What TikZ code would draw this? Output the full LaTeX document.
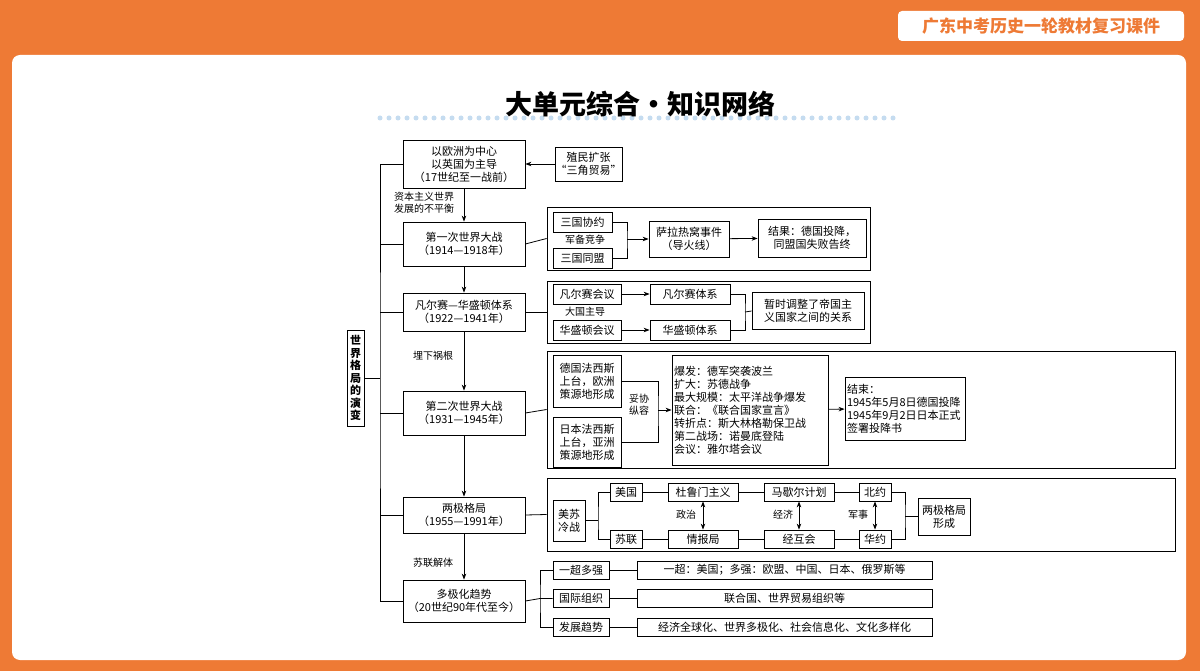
\documentclass[tikz,border=0pt]{standalone}
\usepackage{fontspec}
\setmainfont{Noto Sans CJK SC}
\newfontfamily\cjk{Noto Sans CJK SC}
\usetikzlibrary{arrows.meta}
\definecolor{org}{HTML}{EE7A35}
\definecolor{ttl}{HTML}{C5DCF0}
\begin{document}
\begin{tikzpicture}[x=1pt,y=-1pt,
 bx/.style={draw,line width=0.8pt,inner sep=0pt,align=center,font=\fontsize{11}{13}\selectfont},
 lb/.style={inner sep=0pt,align=left,font=\fontsize{10}{12}\selectfont},
 ln/.style={line width=0.8pt},
 ar/.style={line width=0.8pt,-{Stealth[length=6pt,width=4.5pt]}},
 da/.style={line width=0.8pt,{Stealth[length=6pt,width=4.5pt]}-{Stealth[length=6pt,width=4.5pt]}},
 grp/.style={draw,line width=0.8pt}]
\useasboundingbox (0,0) rectangle (1200,671);
\fill[org] (0,0) rectangle (1200,671);
\fill[white,rounded corners=8pt] (12,55) rectangle (1186,660);
\node[fill=white,rounded corners=4pt,minimum width=286pt,minimum height=30pt,text=org,font=\fontsize{17}{20}\selectfont\bfseries] (badge) at (1041,26) {广东中考历史一轮教材复习课件};
\draw[ttl,line width=5pt,line cap=round,dash pattern=on 0pt off 9pt] (380,118) -- (900,118);
\node[font=\fontsize{27}{30}\selectfont\bfseries] (title) at (640,104) {大单元综合·知识网络};
% main column
\node[bx,minimum width=122pt,minimum height=48pt] (A) at (464,164) {以欧洲为中心\\以英国为主导\\（17世纪至一战前）};
\node[bx,minimum width=67pt,minimum height=34pt] (col) at (588.5,164) {殖民扩张\\“三角贸易”};
\node[bx,minimum width=122pt,minimum height=44pt] (B) at (464,244) {第一次世界大战\\（1914—1918年）};
\node[bx,minimum width=122pt,minimum height=38pt] (C) at (464,312) {凡尔赛—华盛顿体系\\（1922—1941年）};
\node[bx,minimum width=122pt,minimum height=44pt] (D) at (464,413) {第二次世界大战\\（1931—1945年）};
\node[bx,minimum width=122pt,minimum height=36pt] (E) at (464,515) {两极格局\\（1955—1991年）};
\node[bx,minimum width=122pt,minimum height=42pt] (F) at (464,601) {多极化趋势\\（20世纪90年代至今）};
\node[bx,minimum width=17pt,minimum height=96pt,font=\fontsize{11}{12.5}\selectfont\bfseries] (W) at (355.5,378) {世\\界\\格\\局\\的\\演\\变};
\draw[ar] (col) -- (A);
\draw[ar] (A) -- (B); \draw[ar] (B) -- (C); \draw[ar] (C) -- (D); \draw[ar] (D) -- (E); \draw[ar] (E) -- (F);
\coordinate (tk) at (380,378);
\draw[ln] (A.west) -| (tk) |- (F.west);
\draw[ln] (W.east) -- (tk);
\foreach \n in {B,C,D,E} \draw[ln] (\n.west) -- (\n.west -| tk);
\node[lb] (l1) at (424,203) {资本主义世界\\发展的不平衡};
\node[lb] (l2) at (433,356) {埋下祸根};
\node[lb] (l3) at (433,563) {苏联解体};
% group 1
\node[grp,minimum width=323pt,minimum height=63pt] (G1) at (708.5,238.5) {};
\draw[ln] (B.east) -- (G1.west);
\node[bx,minimum width=59pt,minimum height=20pt] (g11) at (582.5,222) {三国协约};
\node[bx,minimum width=59pt,minimum height=20pt] (g12) at (582.5,258) {三国同盟};
\node[lb] (g1l) at (585,240) {军备竞争};
\node[bx,minimum width=80pt,minimum height=36pt] (sa) at (689,239) {萨拉热窝事件\\（导火线）};
\node[bx,minimum width=108pt,minimum height=38pt] (re) at (812,238) {结果：德国投降，\\同盟国失败告终};
\coordinate (b1) at (627,239);
\draw[ln] (g11.east) -| (b1) |- (g12.east);
\draw[ar] (b1) -- (sa);
\draw[ar] (sa) -- (re);
% group 2
\node[grp,minimum width=323pt,minimum height=62pt] (G2) at (708.5,312) {};
\draw[ln] (C.east) -- (G2.west);
\node[bx,minimum width=68pt,minimum height=20pt] (v1) at (587,294) {凡尔赛会议};
\node[bx,minimum width=68pt,minimum height=20pt] (w1) at (587,330) {华盛顿会议};
\node[lb] (g2l) at (585,312) {大国主导};
\node[bx,minimum width=80pt,minimum height=20pt] (v2) at (690,294) {凡尔赛体系};
\node[bx,minimum width=80pt,minimum height=20pt] (w2) at (690,330) {华盛顿体系};
\node[bx,minimum width=112pt,minimum height=37pt] (zs) at (808,311) {暂时调整了帝国主\\义国家之间的关系};
\draw[ar] (v1) -- (v2); \draw[ar] (w1) -- (w2);
\coordinate (b2) at (745,312);
\draw[ln] (v2.east) -| (b2) |- (w2.east);
\draw[ln] (b2) -- (zs.west);
% group 3
\node[grp,minimum width=628pt,minimum height=117pt] (G3) at (861,409.5) {};
\draw[ln] (D.east) -- (G3.west);
\node[bx,minimum width=68pt,minimum height=52pt,align=left] (de) at (587,381) {德国法西斯\\上台，欧洲\\策源地形成};
\node[bx,minimum width=68pt,minimum height=50pt,align=left] (jp) at (587,442) {日本法西斯\\上台，亚洲\\策源地形成};
\node[lb] (g3l) at (639,405) {妥协\\纵容};
\node[bx,minimum width=156pt,minimum height=110pt,align=left,text width=152pt] (bf) at (750,410) {爆发：德军突袭波兰\\扩大：苏德战争\\最大规模：太平洋战争爆发\\联合：《联合国家宣言》\\转折点：斯大林格勒保卫战\\第二战场：诺曼底登陆\\会议：雅尔塔会议};
\node[bx,minimum width=120pt,minimum height=63pt,align=left,text width=116pt] (js) at (905,408.5) {结束：\\1945年5月8日德国投降\\1945年9月2日日本正式\\签署投降书};
\coordinate (b3) at (658,410);
\draw[ln] (de.east) -| (b3) |- (jp.east);
\draw[ar] (b3) -- (bf);
\draw[ar] (bf) -- (js);
% group 4
\node[grp,minimum width=628pt,minimum height=73pt] (G4) at (861,514.5) {};
\draw[ln] (E.east) -- (G4.west);
\node[bx,minimum width=32pt,minimum height=41pt] (ms) at (569,520.5) {美苏\\冷战};
\node[bx,minimum width=32pt,minimum height=18pt] (us) at (626,492) {美国};
\node[bx,minimum width=32pt,minimum height=18pt] (su) at (626,539) {苏联};
\node[bx,minimum width=70pt,minimum height=18pt] (tl) at (703,492) {杜鲁门主义};
\node[bx,minimum width=70pt,minimum height=18pt] (qb) at (703,539) {情报局};
\node[bx,minimum width=70pt,minimum height=18pt] (me) at (799,492) {马歇尔计划};
\node[bx,minimum width=70pt,minimum height=18pt] (jh) at (799,539) {经互会};
\node[bx,minimum width=32pt,minimum height=18pt] (by) at (875,492) {北约};
\node[bx,minimum width=32pt,minimum height=18pt] (hy) at (875,539) {华约};
\node[bx,minimum width=52pt,minimum height=37pt] (lj) at (944,516.5) {两极格局\\形成};
\coordinate (b4) at (598,520.5);
\draw[ln] (ms.east) -- (b4);
\draw[ln] (us.west) -| (b4) |- (su.west);
\draw[ln] (us) -- (tl); \draw[ln] (tl) -- (me); \draw[ln] (me) -- (by);
\draw[ln] (su) -- (qb); \draw[ln] (qb) -- (jh); \draw[ln] (jh) -- (hy);
\draw[da] (tl) -- (qb); \draw[da] (me) -- (jh); \draw[da] (by) -- (hy);
\node[lb] (zz) at (686,515) {政治};
\node[lb] (jj) at (783,515) {经济};
\node[lb] (js2) at (858,515) {军事};
\coordinate (b5) at (905,516.5);
\draw[ln] (by.east) -| (b5) |- (hy.east);
\draw[ln] (b5) -- (lj.west);
% group 5
\node[bx,minimum width=56pt,minimum height=18pt] (h1) at (581,570) {一超多强};
\node[bx,minimum width=56pt,minimum height=18pt] (h2) at (581,598.5) {国际组织};
\node[bx,minimum width=56pt,minimum height=18pt] (h3) at (581,627.5) {发展趋势};
\node[bx,minimum width=295pt,minimum height=18pt] (k1) at (784.5,570) {一超：美国；多强：欧盟、中国、日本、俄罗斯等};
\node[bx,minimum width=295pt,minimum height=18pt] (k2) at (784.5,598.5) {联合国、世界贸易组织等};
\node[bx,minimum width=295pt,minimum height=18pt] (k3) at (784.5,627.5) {经济全球化、世界多极化、社会信息化、文化多样化};
\coordinate (b6) at (540,598.5);
\draw[ln] (F.east) -- (b6) -- (h2.west);
\draw[ln] (h1.west) -| (b6) |- (h3.west);
\draw[ln] (h1) -- (k1); \draw[ln] (h2) -- (k2); \draw[ln] (h3) -- (k3);
\end{tikzpicture}
\end{document}
